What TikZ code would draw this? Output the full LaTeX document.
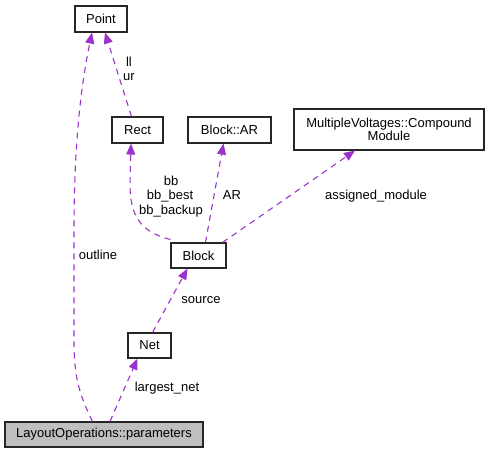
\documentclass[tikz,border=0pt]{standalone}
\usepackage{fontspec}
\setmainfont{Liberation Sans}
\usetikzlibrary{arrows.meta}
\definecolor{edgepurple}{HTML}{9A32CD}
\definecolor{boxgray}{HTML}{BFBFBF}
\begin{document}
\begin{tikzpicture}[x=1pt,y=-1pt,
  every node/.style={font=\fontsize{13}{15}\selectfont},
  cls/.style={draw=black!85,line width=1.1pt,inner sep=0pt,minimum height=25pt,align=center,fill=white},
  rel/.style={draw=edgepurple,line width=1.1pt,dash pattern=on 6pt off 5pt,-{Triangle[length=11pt,width=9pt]},color=edgepurple},
  lbl/.style={inner sep=0pt,text=black}]
\useasboundingbox (0,0) rectangle (489,453);
\node[cls,minimum width=52pt,minimum height=26pt] (point) at (101,19) {Point};
\node[cls,minimum width=51pt,minimum height=26pt] (rect) at (137.5,130) {Rect};
\node[cls,minimum width=83pt,minimum height=26pt] (ar) at (229.5,130) {Block::AR};
\node[cls,minimum width=190pt,minimum height=41pt] (mv) at (389,129.5) {MultipleVoltages::Compound\\[-1.5pt]Module};
\node[cls,minimum width=55pt] (block) at (198.5,255.5) {Block};
\node[cls,minimum width=43pt] (net) at (149.5,345.5) {Net};
\node[cls,minimum width=198pt,fill=boxgray] (lo) at (104,434.5) {LayoutOperations::parameters};

\draw[rel] ([xshift=88pt]lo.north west) .. controls (80,395) and (74,380) .. (74,340) -- (74,230) .. controls (74,150) and (80,90) .. ([xshift=-9pt]point.south);
\draw[rel] ([xshift=20pt]rect.north west) -- ([xshift=4pt]point.south);
\draw[rel] ([yshift=3pt]block.north west) .. controls (140,232) and (130,215) .. (130,185) -- ([xshift=-6.5pt]rect.south);
\draw[rel] ([xshift=35pt]block.north west) -- ([xshift=-6pt]ar.south);
\draw[rel] ([xshift=-4pt]block.north east) -- ([xshift=-34pt]mv.south);
\draw[rel] ([xshift=3pt]net.north) -- ([xshift=-11pt]block.south);
\draw[rel] ([xshift=6pt]lo.north) -- ([xshift=-12pt]net.south);

\node[lbl] (lll) at (129,62) {ll};
\node[lbl] (lur) at (129,77) {ur};
\node[lbl] (lbb) at (171,181) {bb};
\node[lbl] (lbbb) at (170,196) {bb\_best};
\node[lbl] (lbbk) at (171,211) {bb\_backup};
\node[lbl] (lar) at (232,195) {AR};
\node[lbl] (lam) at (376,196) {assigned\_module};
\node[lbl] (lout) at (98,255) {outline};
\node[lbl] (lsrc) at (201,300) {source};
\node[lbl] (lln) at (167,388) {largest\_net};
\end{tikzpicture}
\end{document}
